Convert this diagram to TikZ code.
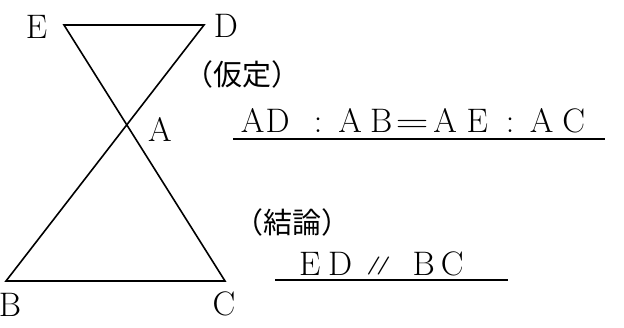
\documentclass[tikz,border=0pt]{standalone}
\usepackage{fontspec}
\newfontfamily\jpfont{Noto Sans CJK JP}
\newcommand\ch[1]{\makebox[0pt]{#1}}

\begin{document}
\begin{tikzpicture}[x=1pt, y=-1pt,
  seg/.style={line width=1.6pt},
  uline/.style={line width=2.2pt},
  vlabel/.style={font=\fontsize{34}{40}\selectfont, inner sep=0pt},
  jp/.style={font=\jpfont\fontsize{29}{34}\selectfont, inner sep=0pt},
  eq/.style={font=\fontsize{34}{40}\selectfont, inner sep=0pt, anchor=base west}
]
  \useasboundingbox (0,0) rectangle (624,327);

  % the two triangles meeting at A
  \coordinate (E) at (64,25);
  \coordinate (D) at (204,25);
  \coordinate (B) at (6,281);
  \coordinate (C) at (225,281);
  \draw[seg] (E) -- (D) -- (B) -- (C) -- cycle;

  \node[vlabel] (lE) at (36.5,27) {E};
  \node[vlabel] (lD) at (226,26) {D};
  \node[vlabel] (lA) at (160,129) {A};
  \node[vlabel] (lB) at (10,305) {B};
  \node[vlabel] (lC) at (224,304) {C};

  % hypothesis
  \node[jp] (kat) at (242,74) {（仮定）};
  \node[eq] (hyp) at (252.5,132)
    {\ch{A}\kern25pt\ch{D}\kern40.5pt\ch{:}\kern32pt\ch{A}\kern31pt\ch{B}\kern31pt\ch{\scalebox{1.35}[1]{=}}\kern33pt\ch{A}\kern32pt\ch{E}\kern33pt\ch{:}\kern31.5pt\ch{A}\kern32pt\ch{C}};
  \coordinate (hypL) at (233,139);
  \coordinate (hypR) at (605,139);
  \draw[uline] (hypL) -- (hypR);

  % conclusion
  \node[jp] (ket) at (292,222) {（結論）};
  \node[eq] (con) at (309.5,275)
    {\ch{E}\kern30.5pt\ch{D}\kern38.5pt\ch{\raisebox{4.5pt}{\scalebox{1.1}[0.75]{\bfseries\fontsize{24}{28}\selectfont/\kern-4.5pt/}}}\kern45pt\ch{B}\kern28.5pt\ch{C}};
  \coordinate (conL) at (275,280);
  \coordinate (conR) at (508,280);
  \draw[uline] (conL) -- (conR);
\end{tikzpicture}
\end{document}
